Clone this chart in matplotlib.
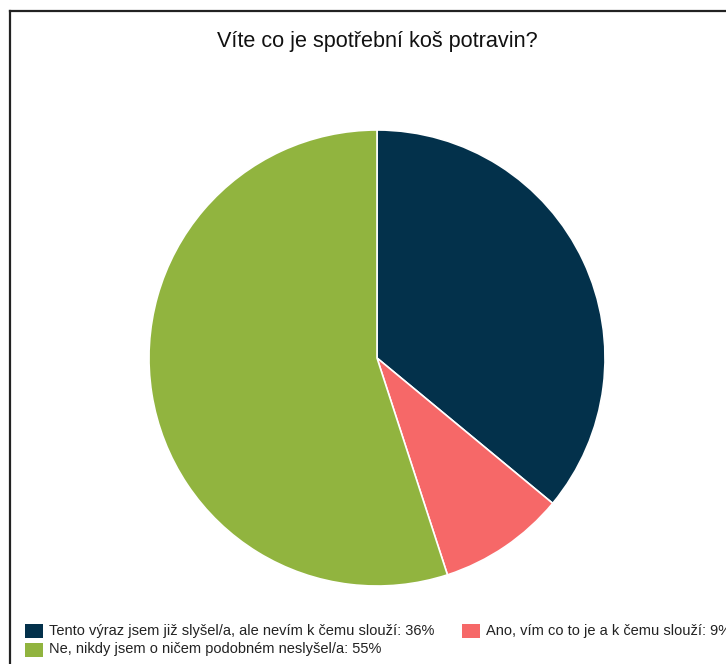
import matplotlib
matplotlib.use("Agg")
import matplotlib.pyplot as plt
from matplotlib.patches import Rectangle
from matplotlib.lines import Line2D

title = "Víte co je spotřební koš potravin?"
labels = [
    "Tento výraz jsem již slyšel/a, ale nevím k čemu slouží",
    "Ano, vím co to je a k čemu slouží",
    "Ne, nikdy jsem o ničem podobném neslyšel/a",
]
values = [36, 9, 55]
colors = ["#03314b", "#f66868", "#91b43f"]

W, H = 726, 664
fig = plt.figure(figsize=(W / 100, H / 100), dpi=100)
fig.patch.set_facecolor("white")
plt.rcParams["font.family"] = ["Liberation Sans", "DejaVu Sans"]

# frame around the chart area
fig.add_artist(Line2D([10 / W, 10 / W], [0, 1 - 11 / H], color="#222222", lw=1.6))
fig.add_artist(Line2D([10 / W, 1], [1 - 11 / H, 1 - 11 / H], color="#222222", lw=1.6))

fig.text(377 / W, 1 - 41 / H, title, ha="center", va="center", fontsize=15.6, color="#111111")

# pie
cx, cy, r = 377, 358, 228
ax = fig.add_axes([(cx - r) / W, 1 - (cy + r) / H, 2 * r / W, 2 * r / H])
ax.pie(values, colors=colors, startangle=90, counterclock=False,
       wedgeprops=dict(edgecolor="white", linewidth=1.2))
ax.set_xlim(-1, 1)
ax.set_ylim(-1, 1)
ax.set_aspect("equal")
ax.axis("off")

# legend
entries = [
    (25, 631, 0),
    (462, 631, 1),
    (25, 649.5, 2),
]
for x, y, i in entries:
    fig.add_artist(Rectangle((x / W, 1 - (y + 7) / H), 18 / W, 14 / H,
                             facecolor=colors[i], edgecolor="none"))
    fig.text((x + 24) / W, 1 - y / H, f"{labels[i]}: {values[i]}%",
             ha="left", va="center", fontsize=10.5, color="#222222")

fig.savefig("out.png", dpi=100)
